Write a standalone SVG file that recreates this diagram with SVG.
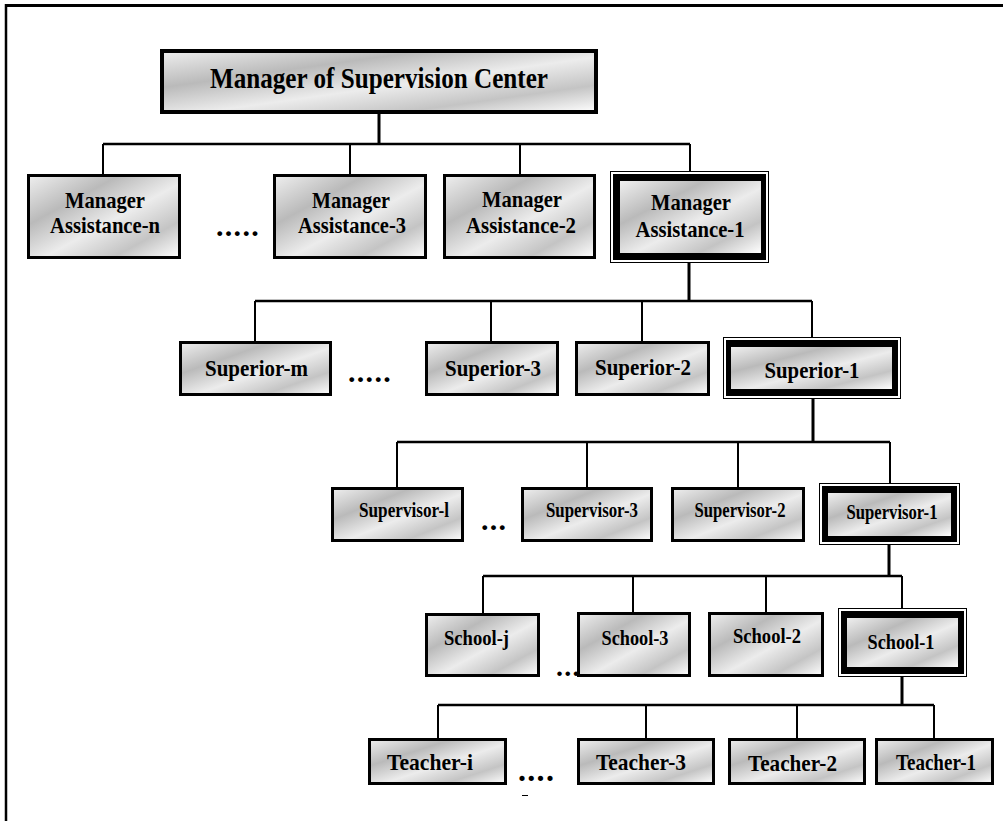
<svg xmlns="http://www.w3.org/2000/svg" width="1003" height="821" viewBox="0 0 1003 821">
<defs>
<linearGradient id="g" x1="0" y1="0" x2="1" y2="1">
<stop offset="0" stop-color="#efefef"/>
<stop offset="0.3" stop-color="#bababa"/>
<stop offset="0.55" stop-color="#ececec"/>
<stop offset="0.78" stop-color="#c4c4c4"/>
<stop offset="1" stop-color="#ffffff"/>
</linearGradient>
<style>
.box{fill:url(#g);stroke:#000;stroke-width:3}
.top{fill:url(#g);stroke:#000;stroke-width:4}
.outer{fill:#fff;stroke:#000;stroke-width:1}
.band{fill:#000}
.in{fill:url(#g)}
text{font-family:"Liberation Serif","Times New Roman",serif;font-weight:bold;fill:#000;text-anchor:middle}
.t24{font-size:24px}
.t22{font-size:22.5px}
.t21{font-size:21.5px}
.dots{font-size:30px;text-anchor:start;letter-spacing:1.3px}
.h{stroke:#000;stroke-width:2.5;fill:none}
.p{stroke:#000;stroke-width:3;fill:none}
.d{stroke:#000;stroke-width:2;fill:none}
</style>
</defs>
<rect width="1003" height="821" fill="#fff"/>
<g id="frame">
<line x1="5" y1="5.5" x2="1003" y2="5.5" stroke="#000" stroke-width="3"/>
<line x1="6" y1="4" x2="6" y2="821" stroke="#000" stroke-width="2.5"/>
</g>
<g id="connectors">
<line class="p" x1="379" y1="114" x2="379" y2="144"/>
<line class="h" x1="103" y1="144" x2="690" y2="144"/>
<line class="d" x1="103" y1="144" x2="103" y2="174"/>
<line class="d" x1="350" y1="144" x2="350" y2="174"/>
<line class="d" x1="520" y1="144" x2="520" y2="174"/>
<line class="d" x1="690" y1="144" x2="690" y2="171"/>
<line class="p" x1="689" y1="263" x2="689" y2="301"/>
<line class="h" x1="255" y1="301" x2="812" y2="301"/>
<line class="d" x1="255" y1="301" x2="255" y2="341"/>
<line class="d" x1="491" y1="301" x2="491" y2="341"/>
<line class="d" x1="642" y1="301" x2="642" y2="341"/>
<line class="d" x1="812" y1="301" x2="812" y2="337"/>
<line class="p" x1="813" y1="399" x2="813" y2="442"/>
<line class="h" x1="397" y1="442" x2="890" y2="442"/>
<line class="d" x1="397" y1="442" x2="397" y2="487"/>
<line class="d" x1="587" y1="442" x2="587" y2="487"/>
<line class="d" x1="738" y1="442" x2="738" y2="487"/>
<line class="d" x1="890" y1="442" x2="890" y2="483"/>
<line class="p" x1="889" y1="545" x2="889" y2="576"/>
<line class="h" x1="483" y1="576" x2="902" y2="576"/>
<line class="d" x1="483" y1="576" x2="483" y2="613"/>
<line class="d" x1="633" y1="576" x2="633" y2="612"/>
<line class="d" x1="766" y1="576" x2="766" y2="612"/>
<line class="d" x1="902" y1="576" x2="902" y2="608"/>
<line class="p" x1="902" y1="677" x2="902" y2="705"/>
<line class="h" x1="438" y1="705" x2="934" y2="705"/>
<line class="d" x1="438" y1="705" x2="438" y2="738"/>
<line class="d" x1="646" y1="705" x2="646" y2="738"/>
<line class="d" x1="797" y1="705" x2="797" y2="738"/>
<line class="d" x1="934" y1="705" x2="934" y2="738"/>
</g>
<g id="ellipses">
<text class="dots" x="216" y="236">.....</text>
<text class="dots" x="348" y="382">.....</text>
<text class="dots" x="481" y="530">...</text>
<text class="dots" x="556" y="676" style="font-size:28px">...</text>
<text class="dots" x="518" y="781" style="font-size:32px">....</text>
<line x1="522" y1="795.5" x2="528" y2="795.5" stroke="#000" stroke-width="1"/>
</g>
<g id="n-top">
<rect class="top" x="162" y="51" width="434" height="61"/>
<text x="379" y="88" style="font-size:29px" textLength="338" lengthAdjust="spacingAndGlyphs">Manager of Supervision Center</text>
</g>
<g id="n-ma-n">
<rect class="box" x="28.5" y="175.5" width="151" height="82"/>
<text class="t24" x="105" y="208" textLength="80" lengthAdjust="spacingAndGlyphs">Manager</text>
<text class="t24" x="105" y="233" textLength="110" lengthAdjust="spacingAndGlyphs">Assistance-n</text>
</g>
<g id="n-ma-3">
<rect class="box" x="274.5" y="175.5" width="151" height="82"/>
<text class="t24" x="351" y="208" textLength="78" lengthAdjust="spacingAndGlyphs">Manager</text>
<text class="t24" x="352" y="233" textLength="108" lengthAdjust="spacingAndGlyphs">Assistance-3</text>
</g>
<g id="n-ma-2">
<rect class="box" x="444.5" y="175.5" width="150" height="82"/>
<text class="t24" x="522" y="207" textLength="80" lengthAdjust="spacingAndGlyphs">Manager</text>
<text class="t24" x="521" y="233" textLength="110" lengthAdjust="spacingAndGlyphs">Assistance-2</text>
</g>
<g id="n-ma-1">
<rect class="outer" x="610.5" y="171.5" width="158" height="91"/>
<rect class="band" x="613" y="174" width="153" height="86"/>
<rect class="in" x="620" y="181" width="141" height="72"/>
<text class="t24" x="691" y="210" textLength="80" lengthAdjust="spacingAndGlyphs">Manager</text>
<text class="t24" x="690" y="237" textLength="109" lengthAdjust="spacingAndGlyphs">Assistance-1</text>
</g>
<g id="n-sup-m">
<rect class="box" x="180.5" y="342.5" width="150" height="52"/>
<text class="t22" x="256.5" y="376" textLength="103" lengthAdjust="spacingAndGlyphs">Superior-m</text>
</g>
<g id="n-sup-3">
<rect class="box" x="426.5" y="342.5" width="131" height="52"/>
<text class="t22" x="493" y="376" textLength="96" lengthAdjust="spacingAndGlyphs">Superior-3</text>
</g>
<g id="n-sup-2">
<rect class="box" x="576.5" y="342.5" width="132" height="52"/>
<text class="t22" x="643" y="375" textLength="96" lengthAdjust="spacingAndGlyphs">Superior-2</text>
</g>
<g id="n-sup-1">
<rect class="outer" x="723.5" y="337.5" width="177" height="61"/>
<rect class="band" x="726" y="340" width="172" height="56"/>
<rect class="in" x="731" y="347" width="161" height="42"/>
<text class="t22" x="812" y="378" textLength="95" lengthAdjust="spacingAndGlyphs">Superior-1</text>
</g>
<g id="n-spv-l">
<rect class="box" x="332.5" y="488.5" width="130" height="52"/>
<text class="t21" x="404" y="517" textLength="90" lengthAdjust="spacingAndGlyphs">Supervisor-l</text>
</g>
<g id="n-spv-3">
<rect class="box" x="522.5" y="488.5" width="129" height="52"/>
<text class="t21" x="592" y="517" textLength="92" lengthAdjust="spacingAndGlyphs">Supervisor-3</text>
</g>
<g id="n-spv-2">
<rect class="box" x="672.5" y="488.5" width="131" height="52"/>
<text class="t21" x="740" y="517" textLength="91" lengthAdjust="spacingAndGlyphs">Supervisor-2</text>
</g>
<g id="n-spv-1">
<rect class="outer" x="819.5" y="483.5" width="140" height="61"/>
<rect class="band" x="822" y="486" width="135" height="56"/>
<rect class="in" x="828" y="493" width="123" height="43"/>
<text class="t21" x="892" y="519" textLength="91" lengthAdjust="spacingAndGlyphs">Supervisor-1</text>
</g>
<g id="n-sch-j">
<rect class="box" x="426.5" y="614.5" width="112" height="61"/>
<text class="t21" x="476.5" y="645" textLength="65" lengthAdjust="spacingAndGlyphs">School-j</text>
</g>
<g id="n-sch-3">
<rect class="box" x="578.5" y="613.5" width="111" height="62"/>
<text class="t21" x="635" y="645" textLength="67" lengthAdjust="spacingAndGlyphs">School-3</text>
</g>
<g id="n-sch-2">
<rect class="box" x="709.5" y="613.5" width="113" height="62"/>
<text class="t21" x="767" y="643" textLength="68" lengthAdjust="spacingAndGlyphs">School-2</text>
</g>
<g id="n-sch-1">
<rect class="outer" x="838.5" y="608.5" width="128" height="68"/>
<rect class="band" x="841" y="611" width="123" height="63"/>
<rect class="in" x="847" y="618" width="111" height="49"/>
<text class="t21" x="901" y="649" textLength="67" lengthAdjust="spacingAndGlyphs">School-1</text>
</g>
<g id="n-tch-i">
<rect class="box" x="369.5" y="739.5" width="136" height="44"/>
<text class="t24" x="430" y="770" textLength="86" lengthAdjust="spacingAndGlyphs">Teacher-i</text>
</g>
<g id="n-tch-3">
<rect class="box" x="578.5" y="739.5" width="135" height="44"/>
<text class="t24" x="641" y="770" textLength="90" lengthAdjust="spacingAndGlyphs">Teacher-3</text>
</g>
<g id="n-tch-2">
<rect class="box" x="729.5" y="739.5" width="135" height="44"/>
<text class="t24" x="792.5" y="771" textLength="89" lengthAdjust="spacingAndGlyphs">Teacher-2</text>
</g>
<g id="n-tch-1">
<rect class="box" x="876.5" y="739.5" width="116" height="44"/>
<text class="t22" x="936" y="770" textLength="80" lengthAdjust="spacingAndGlyphs">Teacher-1</text>
</g>
</svg>
